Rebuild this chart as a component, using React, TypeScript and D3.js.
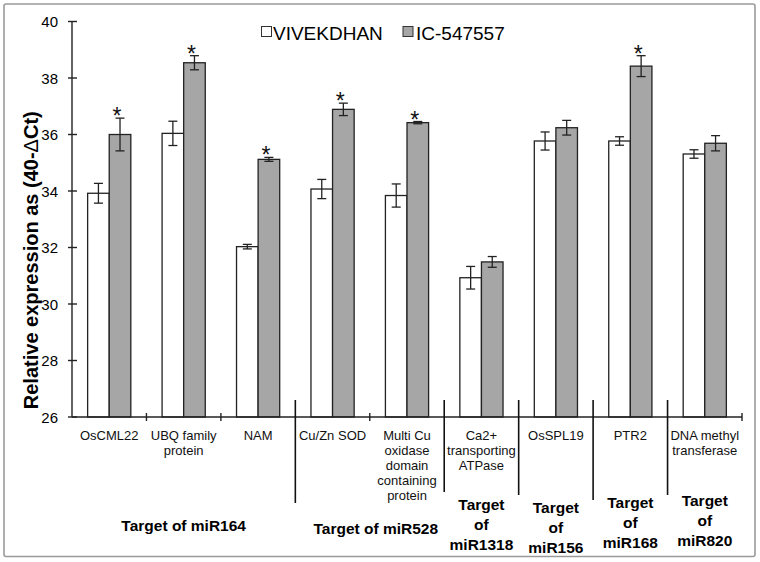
import React from "react";
import * as d3 from "d3";

const categories: string[][] = [
  ["OsCML22"],
  ["UBQ family", "protein"],
  ["NAM"],
  ["Cu/Zn SOD"],
  ["Multi Cu", "oxidase", "domain", "containing", "protein"],
  ["Ca2+", "transporting", "ATPase"],
  ["OsSPL19"],
  ["PTR2"],
  ["DNA methyl", "transferase"],
];
const seriesNames = ["VIVEKDHAN", "IC-547557"];
const vivekdhan = [33.92, 36.04, 32.03, 34.07, 33.84, 30.93, 35.77, 35.77, 35.31];
const vivekdhanErr = [0.35, 0.43, 0.08, 0.34, 0.41, 0.4, 0.32, 0.15, 0.15];
const ic547557 = [36.0, 38.54, 35.12, 36.89, 36.42, 31.49, 36.24, 38.42, 35.69];
const ic547557Err = [0.58, 0.25, 0.07, 0.22, 0.04, 0.19, 0.26, 0.37, 0.27];
const significant = [true, true, true, true, true, false, false, true, false];
const yTicks = [26, 28, 30, 32, 34, 36, 38, 40];
const groups: { label: string[]; start: number; end: number }[] = [
  { label: ["Target of miR164"], start: 0, end: 3 },
  { label: ["Target of miR528"], start: 3, end: 5 },
  { label: ["Target", "of", "miR1318"], start: 5, end: 6 },
  { label: ["Target", "of", "miR156"], start: 6, end: 7 },
  { label: ["Target", "of", "miR168"], start: 7, end: 8 },
  { label: ["Target", "of", "miR820"], start: 8, end: 9 },
];

// layout
const W = 760;
const H = 562;
const X0 = 72;
const X1 = 742;
const Y_TOP = 21.5;
const Y_BOT = 417;
const FONT = "'Liberation Sans', Arial, Helvetica, sans-serif";
const groupBaseline = [531, 534, 510, 513, 508, 506];
const separatorBottom: Record<number, number> = { 3: 503, 5: 492, 6: 495, 7: 500, 8: 495 };

export default function App() {
  const idx = categories.map((_, i) => i);
  const x = d3.scaleBand<number>().domain(idx).range([X0, X1]).paddingInner(0).paddingOuter(0);
  const y = d3.scaleLinear().domain([26, 40]).range([Y_BOT, Y_TOP]);
  const bw = x.bandwidth() * 0.29;
  const center = (i: number) => (x(i) as number) + x.bandwidth() / 2;
  const series = [
    { vals: vivekdhan, errs: vivekdhanErr, fill: "#ffffff", off: -bw },
    { vals: ic547557, errs: ic547557Err, fill: "#a6a6a6", off: 0 },
  ];
  const boundaries = d3.range(0, categories.length + 1).map((k) => X0 + k * x.step());

  return (
    <div style={{ position: "absolute", left: 0, top: 0 }}>
      <svg width={W} height={H} style={{ display: "block", background: "#fff" }} fontFamily={FONT}>
        <rect x={4} y={4} width={751} height={552.5} rx={2} fill="#fff" stroke="#9a9a9a" strokeWidth={1.6} />

        {/* legend */}
        <rect x={261.5} y={26.5} width={10} height={10} fill="#fff" stroke="#333" strokeWidth={1} />
        <text x={273} y={39.5} fontSize={19} fill="#000">{seriesNames[0]}</text>
        <rect x={403} y={26.5} width={10} height={10} fill="#a6a6a6" stroke="#333" strokeWidth={1} />
        <text x={416} y={39.5} fontSize={19} fill="#000">{seriesNames[1]}</text>

        {/* bars */}
        {series.map((s, si) =>
          s.vals.map((v, i) => (
            <rect
              key={`b${si}-${i}`}
              x={center(i) + s.off}
              y={y(v)}
              width={bw}
              height={y(26) - y(v)}
              fill={s.fill}
              stroke="#222"
              strokeWidth={1.3}
            />
          ))
        )}

        {/* error bars */}
        {series.map((s, si) =>
          s.vals.map((v, i) => {
            const cx = center(i) + s.off + bw / 2;
            const t = y(v + s.errs[i]);
            const b = y(v - s.errs[i]);
            return (
              <g key={`e${si}-${i}`} stroke="#222" strokeWidth={1.3}>
                <line x1={cx} x2={cx} y1={t} y2={b} />
                <line x1={cx - 4.5} x2={cx + 4.5} y1={t} y2={t} />
                <line x1={cx - 4.5} x2={cx + 4.5} y1={b} y2={b} />
              </g>
            );
          })
        )}

        {/* asterisks */}
        {ic547557.map((v, i) =>
          significant[i] ? (
            <text
              key={`s${i}`}
              x={center(i) + bw / 2 - 3}
              y={y(v + ic547557Err[i]) + 6}
              fontSize={23}
              textAnchor="middle"
              fill="#111"
            >
              *
            </text>
          ) : null
        )}

        {/* y axis */}
        <line x1={X0} x2={X0} y1={Y_TOP} y2={Y_BOT} stroke="#222" strokeWidth={1.4} />
        {yTicks.map((t) => (
          <g key={`yt${t}`}>
            <line x1={X0 - 4} x2={X0 + 5} y1={y(t)} y2={y(t)} stroke="#222" strokeWidth={1.4} />
            <text x={58} y={y(t) + 5.5} fontSize={15} textAnchor="end" fill="#000">
              {t}
            </text>
          </g>
        ))}

        {/* x axis */}
        <line x1={X0} x2={X1} y1={Y_BOT} y2={Y_BOT} stroke="#222" strokeWidth={1.4} />
        {boundaries.map((bx, k) =>
          separatorBottom[k] !== undefined ? (
            <line key={`sep${k}`} x1={bx} x2={bx} y1={400} y2={separatorBottom[k]} stroke="#111" strokeWidth={1.6} />
          ) : k === 0 ? null : (
            <line key={`xt${k}`} x1={bx} x2={bx} y1={Y_BOT - 4} y2={Y_BOT + 4} stroke="#222" strokeWidth={1.4} />
          )
        )}

        {/* category labels */}
        {categories.map((lines, i) => (
          <text key={`c${i}`} x={center(i)} y={439.5} fontSize={13} textAnchor="middle" fill="#111">
            {lines.map((ln, j) => (
              <tspan key={j} x={center(i)} dy={j === 0 ? 0 : 15.2}>
                {ln}
              </tspan>
            ))}
          </text>
        ))}

        {/* group labels */}
        {groups.map((g, gi) => {
          const gx = (boundaries[g.start] + boundaries[g.end]) / 2 + (gi === 1 ? 6 : 0);
          return (
            <text key={`g${gi}`} x={gx} y={groupBaseline[gi]} fontSize={15.5} fontWeight="bold" textAnchor="middle" fill="#000">
              {g.label.map((ln, j) => (
                <tspan key={j} x={gx} dy={j === 0 ? 0 : 20}>
                  {ln}
                </tspan>
              ))}
            </text>
          );
        })}

        {/* y title */}
        <text
          transform={`translate(37.5, ${(Y_TOP + Y_BOT) / 2 + 41}) rotate(-90)`}
          fontSize={20}
          fontWeight="bold"
          textAnchor="middle"
          fill="#000"
        >
          Relative expression as (40-<tspan fontWeight="normal">Δ</tspan>Ct)
        </text>
      </svg>
    </div>
  );
}
